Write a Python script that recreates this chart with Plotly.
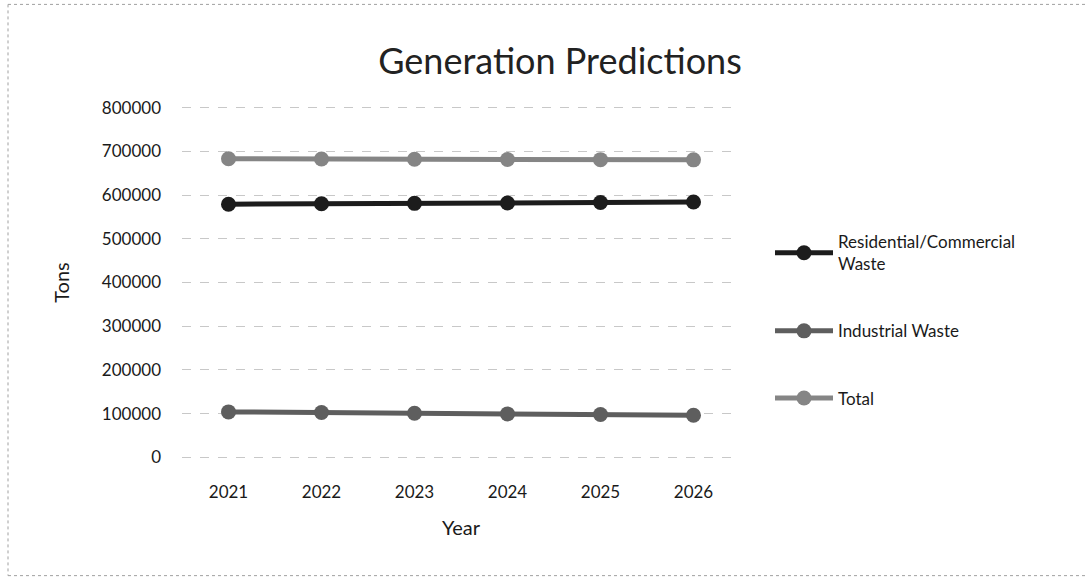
import plotly.graph_objects as go

# Projected waste generation (tons) by year
years = ["2021", "2022", "2023", "2024", "2025", "2026"]
residential_commercial = [579000, 580000, 581000, 582000, 583000, 584000]
industrial = [104000, 102500, 101000, 99500, 98000, 96500]
total = [683000, 682500, 682000, 681500, 681000, 680500]
y_ticks = [0, 100000, 200000, 300000, 400000, 500000, 600000, 700000, 800000]

series = [
    ("Residential/Commercial<br>Waste", residential_commercial, "#1c1c1c"),
    ("Industrial Waste", industrial, "#5e5e5e"),
    ("Total", total, "#858585"),
]

FONT = "Lato, 'Open Sans', sans-serif"

fig = go.Figure()
for i, (name, vals, col) in enumerate(series):
    fig.add_trace(go.Scatter(
        x=years, y=vals, name=name, mode="lines+markers",
        line=dict(color=col, width=5),
        marker=dict(color=col, size=15),
        legendgroup=f"g{i}",
    ))

W, H = 1087, 583
left, right = 182, 740
# value axis padded slightly so the 0 and 800000 gridlines are drawn
y_lo, y_hi = -6000, 806000
top = 108 - 6000 / 800000 * 349
bottom = 457 + 6000 / 800000 * 349


def px_x(p):
    return (p - left) / (right - left)


def px_y(p):
    return (bottom - p) / (bottom - top)


frame = dict(color="#a0a0a0", width=1, dash="dot")

fig.update_layout(
    width=W, height=H,
    margin=dict(l=left, r=W - right, t=top, b=H - bottom, autoexpand=False),
    paper_bgcolor="white", plot_bgcolor="white",
    font=dict(family=FONT, color="#1a1a1a", size=16),
    title=dict(text="Generation Predictions", x=560 / W,
               xanchor="center", y=1 - 61 / H, yanchor="middle",
               yref="container", font=dict(size=36, color="#222")),
    showlegend=True,
    legend=dict(x=px_x(770), xanchor="left", y=px_y(320), yanchor="middle",
                font=dict(size=17), tracegroupgap=42, itemwidth=58,
                bgcolor="rgba(0,0,0,0)"),
    xaxis=dict(
        type="category", range=[-0.5, 5.5], showgrid=False, zeroline=False,
        showline=False, ticks="", ticklabelstandoff=20,
        title=dict(text="Year", font=dict(size=20), standoff=19),
        tickfont=dict(size=17),
    ),
    yaxis=dict(
        range=[y_lo, y_hi], tickvals=y_ticks, tickformat="d",
        showgrid=True, gridcolor="#c8c8c8", griddash="dash", gridwidth=1,
        zeroline=False, showline=False, ticks="", ticklabelstandoff=20,
        title=dict(text="Tons", font=dict(size=20), standoff=26),
        tickfont=dict(size=17),
    ),
    shapes=[
        # scanned frame edges around the chart area
        dict(type="line", xref="paper", yref="paper",
             x0=px_x(8), x1=px_x(1087), y0=px_y(5), y1=px_y(5), line=frame),
        dict(type="line", xref="paper", yref="paper",
             x0=px_x(8), x1=px_x(8), y0=px_y(5), y1=px_y(575), line=frame),
        dict(type="line", xref="paper", yref="paper",
             x0=px_x(8), x1=px_x(1087), y0=px_y(575), y1=px_y(575), line=frame),
    ],
)

fig.write_html("out.html")
